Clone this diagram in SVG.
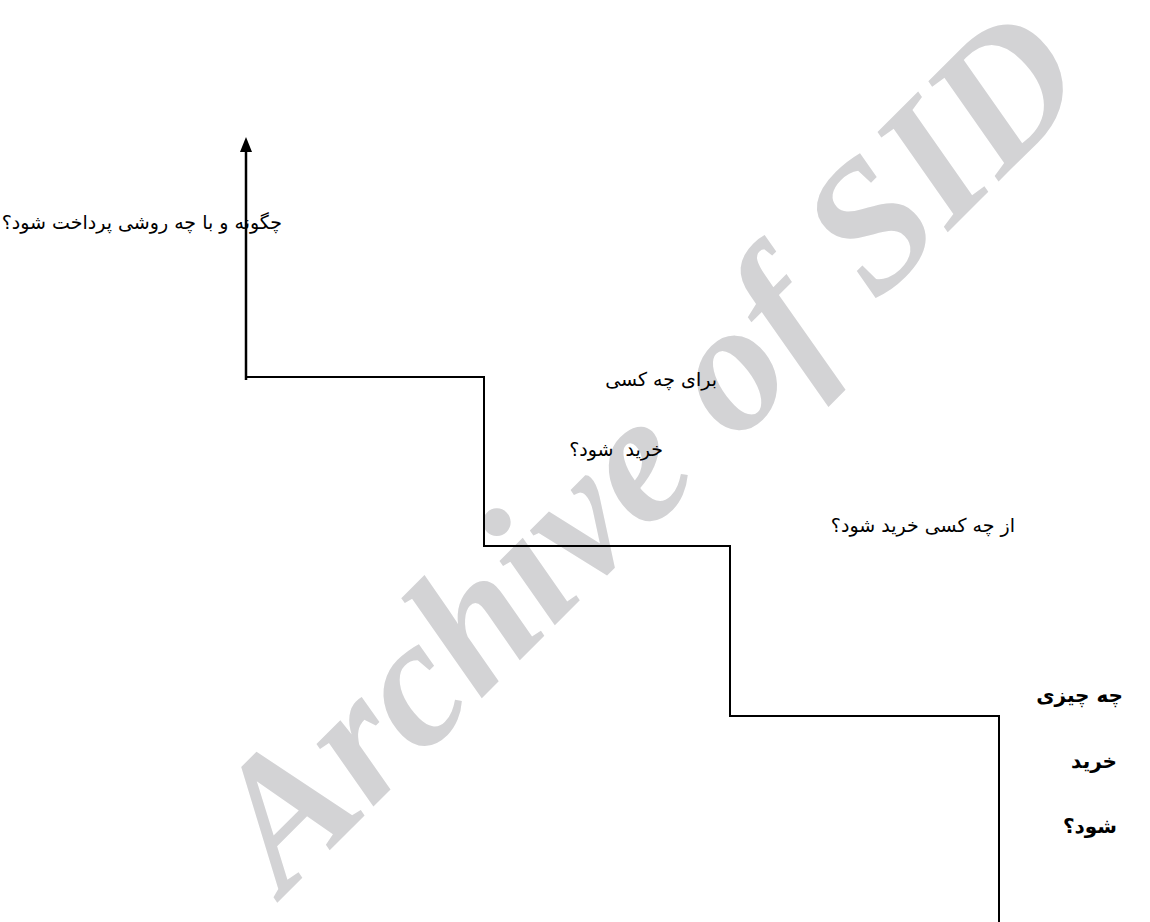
<svg xmlns="http://www.w3.org/2000/svg" width="1150" height="922" viewBox="0 0 1150 922">
<style>
.t{font-family:"DejaVu Sans",sans-serif;font-size:19px;fill:#000;direction:rtl;white-space:pre;}
.b{font-weight:bold;font-size:20px;}
.wm{font-family:"Liberation Serif",serif;font-weight:bold;font-style:italic;font-size:184px;fill:#d3d3d5;}
.ln{fill:none;stroke:#000;stroke-width:2;}
</style>
<rect width="1150" height="922" fill="#fff"/>
<text class="wm" transform="translate(284,896) rotate(-45)">Archive of SID</text>
<g id="connectors">
<line class="ln" x1="246" y1="380" x2="246" y2="150" style="stroke-width:2.5"/>
<path d="M240,152 L246,137 L252,152 Z" fill="#000"/>
<path class="ln" d="M246,377 H484 V546 H730 V716 H999 V922"/>
</g>
<g id="n1"><text class="t" x="282" y="229">چگونه و با چه روشی پرداخت شود؟</text></g>
<g id="n2"><text class="t" x="717" y="386">برای چه کسی</text></g>
<g id="n3"><text class="t" x="663" y="456">خرید  شود؟</text></g>
<g id="n4"><text class="t" x="1015" y="532">از چه کسی خرید شود؟</text></g>
<g id="n5"><text class="t b" x="1123" y="702">چه چیزی</text></g>
<g id="n6"><text class="t b" x="1117" y="768">خرید</text></g>
<g id="n7"><text class="t b" x="1117" y="833">شود؟</text></g>
</svg>
